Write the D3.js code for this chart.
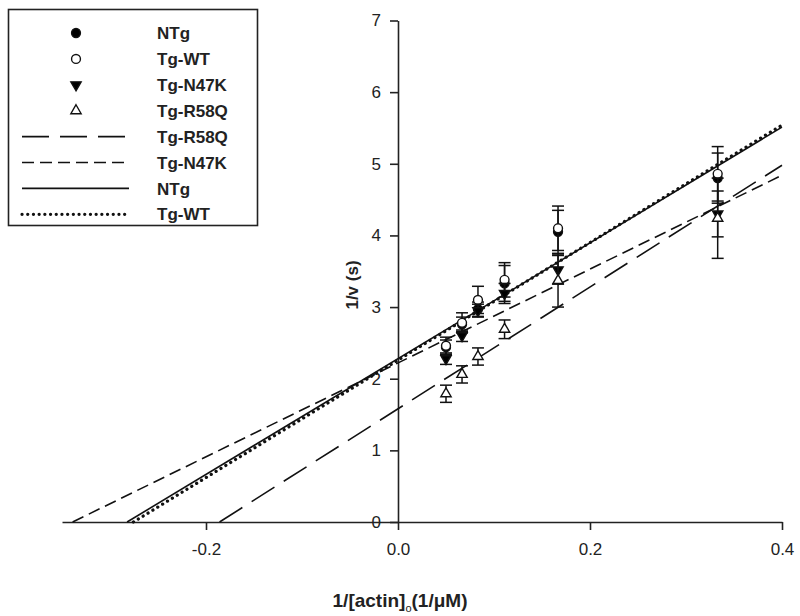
<!DOCTYPE html>
<html><head><meta charset="utf-8">
<script src="https://cdn.jsdelivr.net/npm/d3@7"></script>
<style>
body{margin:0;background:#fff;}
svg{display:block;font-family:"Liberation Sans",Arial,sans-serif;}
</style></head>
<body><svg id="c" width="800" height="616"></svg>
<script>
// ---- data ----
const xValues = [0.05, 0.0667, 0.0833, 0.111, 0.1667, 0.333];
const seriesNames = ["NTg", "Tg-WT", "Tg-N47K", "Tg-R58Q"];
const ntgValues   = [2.44, 2.76, 2.97, 3.33, 4.05, 4.80];
const ntgErrors   = [0.10, 0.10, 0.10, 0.25, 0.30, 0.35];
const wtValues    = [2.46, 2.78, 3.10, 3.38, 4.10, 4.86];
const wtErrors    = [0.12, 0.14, 0.19, 0.24, 0.31, 0.38];
const n47kValues  = [2.28, 2.60, 2.95, 3.19, 3.52, 4.30];
const n47kErrors  = [0.08, 0.08, 0.09, 0.14, 0.20, 0.32];
const r58qValues  = [1.79, 2.06, 2.31, 2.69, 3.37, 4.24];
const r58qErrors  = [0.12, 0.12, 0.12, 0.13, 0.37, 0.56];
const fitNames      = ["Tg-R58Q", "Tg-N47K", "NTg", "Tg-WT"];
const fitIntercepts = [1.58, 2.22, 2.28, 2.26];
const fitSlopes     = [8.50, 6.55, 8.08, 8.20];
const xTicks = [-0.2, 0.0, 0.2, 0.4];
const xTickLabels = ["-0.2", "0.0", "0.2", "0.4"];
const yTicks = [0, 1, 2, 3, 4, 5, 6, 7];
const xDomain = [-0.35, 0.4];
const yDomain = [0, 7];

// ---- setup ----
const svg = d3.select("#c");
const x = d3.scaleLinear().domain(xDomain).range([62, 782]);
const y = d3.scaleLinear().domain(yDomain).range([522, 20.5]);

const styles = {
  "NTg":     {sym: d3.symbolCircle, fill: "#000", rot: 0, dash: null, w: 1.6},
  "Tg-WT":   {sym: d3.symbolCircle, fill: "#fff", rot: 0, dash: "0.1,5.6", w: 3.2, cap: "round"},
  "Tg-N47K": {sym: d3.symbolTriangle, fill: "#000", rot: 180, dash: "12,6", w: 1.6},
  "Tg-R58Q": {sym: d3.symbolTriangle, fill: "#fff", rot: 0, dash: "27,11", w: 1.6}
};
const symSize = {circle: 62, triangle: 46};
function sym(name){
  const s = styles[name];
  return d3.symbol().type(s.sym).size(s.sym === d3.symbolCircle ? symSize.circle : symSize.triangle)();
}

// ---- axes ----
const xAxis = d3.axisBottom(x).tickValues(xTicks).tickFormat((d, i) => xTickLabels[i]).tickSize(8).tickSizeOuter(0).tickPadding(13);
const yAxis = d3.axisLeft(y).tickValues(yTicks).tickFormat(d3.format("d")).tickSize(8).tickSizeOuter(0).tickPadding(9);
const gx = svg.append("g").attr("transform", `translate(0,${y(0)})`).call(xAxis);
const gy = svg.append("g").attr("transform", `translate(${x(0)},0)`).call(yAxis);
[gx, gy].forEach(g => {
  g.select(".domain").attr("stroke", "#222").attr("stroke-width", 1.6);
  g.selectAll(".tick line").attr("stroke", "#222").attr("stroke-width", 1.6);
  g.selectAll(".tick text").attr("fill", "#222").style("font-size", "17px").style("font-family", "'Liberation Sans',Arial,sans-serif");
});

// axis titles
svg.append("text").attr("x", 400).attr("y", 607).attr("text-anchor", "middle")
  .style("font-size", "19px").style("font-weight", "bold").attr("fill", "#222")
  .call(t => {
    t.append("tspan").text("1/[actin]");
    t.append("tspan").text("o").attr("dy", 5).style("font-size", "11px").style("font-weight", "normal");
    t.append("tspan").text("(1/\u03BCM)").attr("dy", -5);
  });
svg.append("text").attr("transform", "translate(358,285) rotate(-90)").attr("text-anchor", "middle")
  .style("font-size", "17px").style("font-weight", "bold").attr("fill", "#222").text("1/v (s)");

// ---- fit lines ----
const line = d3.line().x(d => x(d[0])).y(d => y(d[1]));
fitNames.forEach((name, i) => {
  const b = fitIntercepts[i], m = fitSlopes[i];
  const pts = [[-b / m, 0], [xDomain[1], b + m * xDomain[1]]];
  const s = styles[name];
  svg.append("path").attr("d", line(pts)).attr("fill", "none").attr("stroke", "#111")
    .attr("stroke-width", s.w).attr("stroke-dasharray", s.dash).attr("stroke-linecap", s.cap || "butt");
});

// ---- points with error bars ----
const seriesVals = [ntgValues, wtValues, n47kValues, r58qValues];
const seriesErrs = [ntgErrors, wtErrors, n47kErrors, r58qErrors];
seriesNames.forEach((name, k) => {
  const vals = seriesVals[k], errs = seriesErrs[k];
  const g = svg.append("g");
  vals.forEach((v, i) => {
    const cx = x(xValues[i]);
    const top = y(v + errs[i]), bot = y(v - errs[i]);
    g.append("line").attr("x1", cx).attr("x2", cx).attr("y1", top).attr("y2", bot).attr("stroke", "#111").attr("stroke-width", 1.5);
    [top, bot].forEach(yy => g.append("line").attr("x1", cx - 6).attr("x2", cx + 6).attr("y1", yy).attr("y2", yy).attr("stroke", "#111").attr("stroke-width", 1.5));
  });
  vals.forEach((v, i) => {
    g.append("path").attr("d", sym(name))
      .attr("transform", `translate(${x(xValues[i])},${y(v)}) rotate(${styles[name].rot})`)
      .attr("fill", styles[name].fill).attr("stroke", "#111").attr("stroke-width", 1.4);
  });
});

// ---- legend ----
const lg = svg.append("g");
lg.append("rect").attr("x", 8.5).attr("y", 9.5).attr("width", 249).attr("height", 216)
  .attr("fill", "#fff").attr("stroke", "#222").attr("stroke-width", 1.6);
const rowY0 = 33, rowDy = 25.9;
const legendItems = seriesNames.map(n => ({name: n, kind: "sym"})).concat(fitNames.map(n => ({name: n, kind: "line"})));
legendItems.forEach((it, i) => {
  const yy = rowY0 + i * rowDy;
  const s = styles[it.name];
  if (it.kind === "sym") {
    lg.append("path").attr("d", sym(it.name)).attr("transform", `translate(76,${yy}) rotate(${s.rot})`)
      .attr("fill", s.fill).attr("stroke", "#111").attr("stroke-width", 1.4);
  } else {
    lg.append("line").attr("x1", 22).attr("x2", 129).attr("y1", yy).attr("y2", yy).attr("stroke", "#111")
      .attr("stroke-width", s.w).attr("stroke-dasharray", s.dash).attr("stroke-linecap", s.cap || "butt");
  }
  lg.append("text").attr("x", 157).attr("y", yy).attr("dy", "0.36em").text(it.name)
    .style("font-size", "17px").style("font-weight", "bold").attr("fill", "#222");
});
</script></body></html>
